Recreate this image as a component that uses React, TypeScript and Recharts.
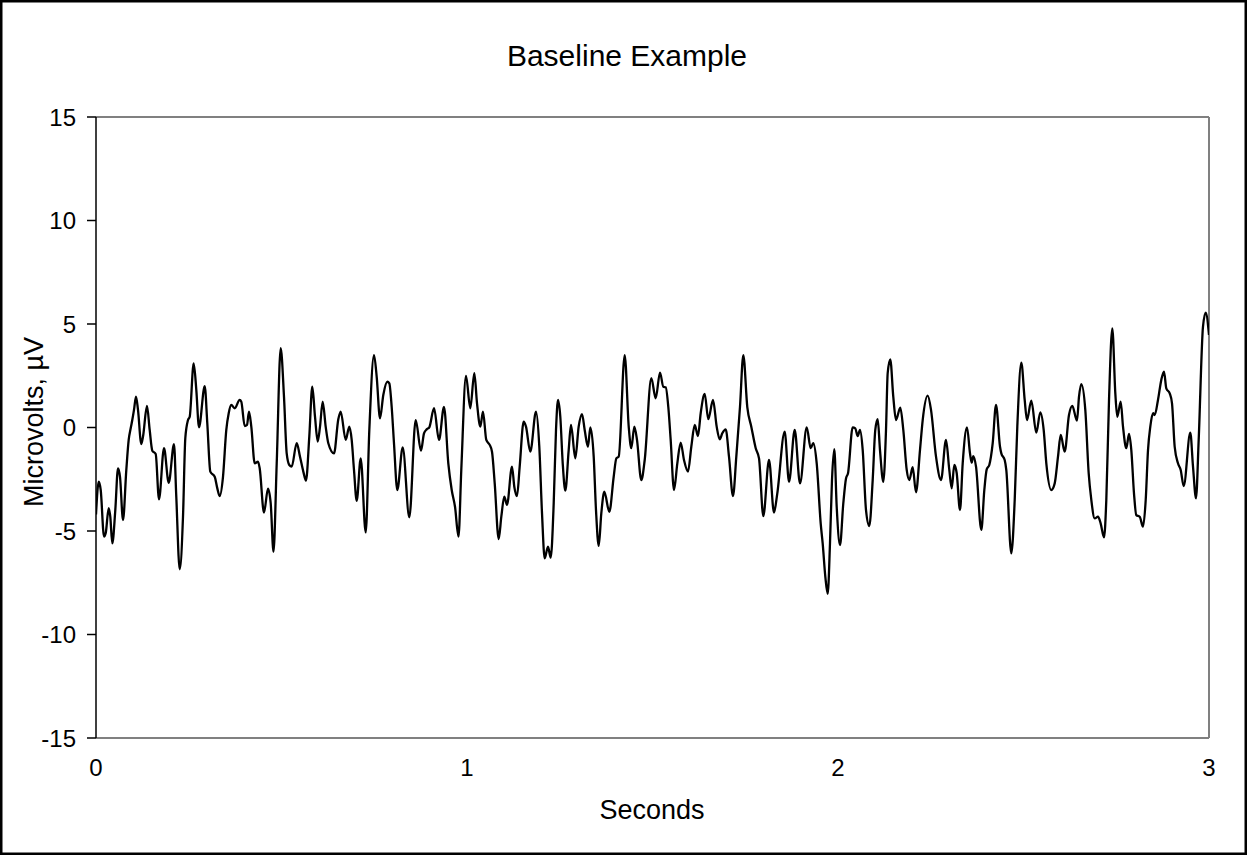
import React from "react";
import { LineChart, Line, XAxis, YAxis, ReferenceLine } from "recharts";

const chartTitle = "Baseline Example";
const xAxisTitle = "Seconds";
const yAxisTitle = "Microvolts, µV";
const xTicks = [0, 1, 2, 3];
const yTicks = [-15, -10, -5, 0, 5, 10, 15];

const timeSec = [
  0, 0.0073, 0.0127, 0.0216, 0.0261, 0.0342, 0.0385, 0.0439, 0.052, 0.0593,
  0.0647, 0.0728, 0.0817, 0.0881, 0.0935, 0.0978, 0.1024, 0.1078, 0.1132, 0.1221,
  0.1267, 0.1375, 0.1447, 0.1518, 0.1609, 0.1698, 0.1833, 0.196, 0.2102, 0.2164,
  0.2256, 0.2345, 0.2407, 0.248, 0.2526, 0.2633, 0.2704, 0.2776, 0.293, 0.3,
  0.3081, 0.32, 0.327, 0.3334, 0.3423, 0.3512, 0.3577, 0.3647, 0.3739, 0.3873,
  0.3916, 0.4008, 0.407, 0.4124, 0.4186, 0.4278, 0.4367, 0.4412, 0.4528, 0.4636,
  0.4709, 0.4784, 0.4871, 0.4978, 0.5067, 0.514, 0.521, 0.5275, 0.541, 0.5499,
  0.5588, 0.566, 0.5749, 0.583, 0.5903, 0.5976, 0.6038, 0.611, 0.6191, 0.6262,
  0.6415, 0.6531, 0.6596, 0.673, 0.6828, 0.6892, 0.6954, 0.7027, 0.7135, 0.727,
  0.7367, 0.7493, 0.7566, 0.7655, 0.7744, 0.7852, 0.7906, 0.797, 0.8032, 0.8121,
  0.8267, 0.8445, 0.8617, 0.876, 0.8841, 0.8914, 0.8984, 0.9111, 0.9245, 0.938,
  0.9496, 0.9588, 0.9677, 0.9771, 0.9846, 0.9973, 1.0089, 1.0197, 1.027, 1.0359,
  1.0431, 1.052, 1.0612, 1.0674, 1.0747, 1.0854, 1.0925, 1.1005, 1.1078, 1.1213,
  1.1275, 1.1348, 1.142, 1.1528, 1.159, 1.1706, 1.186, 1.1949, 1.2022, 1.2094,
  1.2183, 1.2256, 1.2337, 1.2399, 1.2453, 1.2515, 1.258, 1.265, 1.2741, 1.2803,
  1.2919, 1.301, 1.31, 1.3172, 1.3261, 1.3324, 1.3415, 1.3477, 1.355, 1.362,
  1.3701, 1.3836, 1.3954, 1.4025, 1.4089, 1.4251, 1.4359, 1.4429, 1.451, 1.4582,
  1.4698, 1.479, 1.4968, 1.5086, 1.5202, 1.5291, 1.5356, 1.5426, 1.549, 1.558,
  1.5669, 1.576, 1.5849, 1.5957, 1.6046, 1.6138, 1.6226, 1.6299, 1.6407, 1.6504,
  1.6631, 1.673, 1.6811, 1.6881, 1.6973, 1.7062, 1.717, 1.7259, 1.7358, 1.7448,
  1.7555, 1.7663, 1.7782, 1.7871, 1.7987, 1.814, 1.8275, 1.8364, 1.8563, 1.868,
  1.8833, 1.8976, 1.9157, 1.9264, 1.9334, 1.9426, 1.9534, 1.9587, 1.9658, 1.9722,
  1.9784, 1.9838, 1.99, 1.9965, 2.0054, 2.0143, 2.0216, 2.027, 2.0396, 2.0466,
  2.0531, 2.0593, 2.0666, 2.0755, 2.0844, 2.0935, 2.1005, 2.107, 2.1132, 2.1221,
  2.1294, 2.1339, 2.1409, 2.149, 2.1563, 2.1679, 2.176, 2.1852, 2.1922, 2.2013,
  2.2102, 2.221, 2.2283, 2.2418, 2.2507, 2.2642, 2.2776, 2.2911, 2.3, 2.3065,
  2.3135, 2.32, 2.3288, 2.3361, 2.3477, 2.3558, 2.3604, 2.3647, 2.372, 2.3863,
  2.3944, 2.4008, 2.4078, 2.417, 2.4259, 2.4367, 2.4402, 2.4493, 2.4536, 2.4671,
  2.4763, 2.4833, 2.4941, 2.5032, 2.5094, 2.521, 2.5345, 2.5453, 2.5544, 2.5615,
  2.575, 2.5841, 2.593, 2.6003, 2.611, 2.6226, 2.6315, 2.6442, 2.6496, 2.6558,
  2.6666, 2.6757, 2.6828, 2.6919, 2.7008, 2.7081, 2.717, 2.7232, 2.7305, 2.7394,
  2.7475, 2.7528, 2.762, 2.7682, 2.7771, 2.7844, 2.7906, 2.7978, 2.804, 2.8132,
  2.8221, 2.8294, 2.8356, 2.8418, 2.8491, 2.8536, 2.8625, 2.8714, 2.8787, 2.8849,
  2.8941, 2.9003, 2.9075, 2.9164, 2.9237, 2.9318, 2.9496, 2.9569, 2.965, 2.9722,
  2.9838, 2.9911, 3.0,
];

const microvolts = [
  -4.2, -2.62, -3.02, -5.27, -5.11, -3.9, -4.31, -5.6, -3.99, -1.97,
  -2.38, -4.47, -2.05, -0.6, -0.04, 0.36, 0.85, 1.49, 0.85, -0.8,
  -0.44, 1.04, -0.12, -1.12, -1.28, -3.47, -1.0, -2.67, -0.81, -3.34,
  -6.85, -4.31, -0.52, 0.36, 0.52, 3.1, 1.81, 0.01, 2.0, 0.2,
  -2.13, -2.38, -2.94, -3.31, -2.38, -0.12, 0.69, 1.09, 0.93, 1.33,
  1.25, 0.07, 0.12, 0.76, 0.04, -1.73, -1.65, -1.97, -4.11, -2.95,
  -3.66, -6.0, -1.73, 3.83, 1.49, -1.25, -1.81, -1.89, -0.76, -1.41,
  -2.13, -2.57, -0.44, 1.97, 0.52, -0.68, 0.04, 1.25, 0.04, -0.76,
  -1.25, 0.4, 0.77, -0.6, 0.04, -0.6, -2.05, -3.54, -1.49, -5.07,
  -0.12, 3.5, 2.45, 0.44, 1.57, 2.21, 2.13, 0.99, -0.76, -3.02,
  -0.96, -4.34, 0.36, -1.12, -0.28, -0.09, 0.01, 0.93, -0.6, 1.0,
  -1.73, -3.02, -3.83, -5.27, -2.05, 2.49, 0.93, 2.62, 1.17, 0.04,
  0.76, -0.6, -0.84, -1.17, -2.7, -5.39, -4.31, -3.34, -3.74, -1.89,
  -2.86, -3.31, -1.89, 0.28, 0.04, -1.17, 0.76, -0.93, -4.15, -6.32,
  -5.76, -6.29, -3.66, -0.12, 1.33, 0.52, -1.73, -3.05, -1.09, 0.12,
  -1.49, 0.04, 0.65, -0.12, -0.93, 0.01, -1.41, -3.99, -5.72, -4.15,
  -3.1, -4.07, -2.38, -1.49, -1.41, 3.5, 0.04, -1.0, 0.04, -0.6,
  -2.54, -1.57, 2.38, 1.41, 2.65, 1.97, 1.94, 0.99, -0.6, -3.02,
  -1.73, -0.73, -1.57, -2.13, -0.93, 0.12, -0.41, 0.69, 1.62, 0.4,
  1.33, 0.04, -0.57, -0.28, -0.09, -1.41, -3.31, -1.41, 0.99, 3.5,
  0.99, 0.04, -1.0, -1.49, -4.28, -1.57, -4.11, -3.18, -0.2, -2.62,
  -0.12, -2.7, 0.01, -1.0, -0.76, -1.73, -4.64, -5.6, -7.2, -8.04,
  -5.6, -2.54, -1.05, -3.83, -5.68, -3.66, -2.46, -2.21, 0.01, -0.04,
  -0.41, -0.12, -1.09, -3.99, -4.76, -2.54, -0.12, 0.4, -1.09, -2.62,
  -0.12, 2.62, 3.29, 1.49, 0.36, 0.96, -0.12, -2.05, -2.54, -1.92,
  -3.13, -1.09, 0.36, 1.54, 0.85, -1.41, -2.54, -0.6, -2.05, -2.94,
  -1.81, -2.21, -3.99, -1.73, 0.01, -1.25, -1.7, -1.38, -1.89, -4.95,
  -3.02, -2.02, -1.81, -0.76, 1.09, -0.93, -1.25, -1.57, -2.05, -6.08,
  -3.5, 0.04, 3.13, 1.33, 0.36, 1.3, -0.25, 0.73, -0.12, -1.73,
  -3.02, -2.7, -1.41, -0.36, -1.17, 0.6, 1.04, 0.33, 1.49, 2.1,
  0.85, -2.21, -3.5, -4.39, -4.31, -4.64, -5.31, -3.5, 1.33, 4.79,
  1.65, 0.52, 1.25, 0.04, -1.0, -0.31, -1.09, -3.18, -4.23, -4.31,
  -4.79, -3.5, -1.09, 0.04, 0.69, 0.6, 1.33, 2.3, 2.7, 1.89,
  1.65, 1.17, -0.93, -1.73, -2.05, -2.83, -0.25, -1.89, -3.42, -0.6,
  4.87, 5.55, 4.47,
];

const data = timeSec.map((t, i) => ({ t, v: microvolts[i] }));

const FONT = "'Liberation Sans', Arial, sans-serif";

export default function App() {
  return (
    <div style={{ position: "relative", width: 1247, height: 855, background: "#fff" }}>
      <style>{"body{margin:0;}"}</style>
      <LineChart
        width={1247}
        height={855}
        data={data}
        margin={{ top: 117, right: 38, bottom: 87, left: 36 }}
      >
        <XAxis
          dataKey="t"
          type="number"
          domain={[0, 3]}
          ticks={xTicks}
          interval={0}
          allowDataOverflow
          axisLine={{ stroke: "#808080", strokeWidth: 2 }}
          tickLine={false}
          tickSize={0}
          tickMargin={21}
          height={30}
          tick={{ fill: "#000", fontSize: 24, fontFamily: FONT }}
        />
        <YAxis
          type="number"
          domain={[-15, 15]}
          ticks={yTicks}
          interval={0}
          allowDataOverflow
          width={60}
          axisLine={{ stroke: "#000", strokeWidth: 1.5 }}
          tickLine={{ stroke: "#000", strokeWidth: 1.5 }}
          tickSize={9}
          tickMargin={11}
          tick={{ fill: "#000", fontSize: 24, fontFamily: FONT }}
        />
        <ReferenceLine y={15} stroke="#808080" strokeWidth={2} />
        <ReferenceLine x={3} stroke="#808080" strokeWidth={2} />
        <Line
          dataKey="v"
          type="monotone"
          stroke="#000"
          strokeWidth={2.3}
          dot={false}
          activeDot={false}
          isAnimationActive={false}
        />
      </LineChart>
      <svg
        width={1247}
        height={855}
        style={{ position: "absolute", left: 0, top: 0, pointerEvents: "none" }}
      >
        <rect x={1.25} y={1.25} width={1244.5} height={852.5} fill="none" stroke="#000" strokeWidth={2.5} />
        <text x={627} y={66} textAnchor="middle" fontSize={30} fontFamily={FONT} fill="#000">
          {chartTitle}
        </text>
        <text x={652} y={819} textAnchor="middle" fontSize={27} fontFamily={FONT} fill="#000">
          {xAxisTitle}
        </text>
        <text
          x={43}
          y={422}
          textAnchor="middle"
          fontSize={27}
          fontFamily={FONT}
          fill="#000"
          transform="rotate(-90, 43, 422)"
        >
          {yAxisTitle}
        </text>
      </svg>
    </div>
  );
}
